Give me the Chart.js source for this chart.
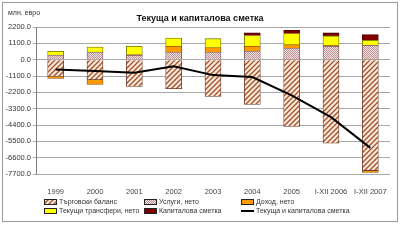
<!DOCTYPE html>
<html>
<head>
<meta charset="utf-8">
<script src="https://cdn.jsdelivr.net/npm/chart.js@4/dist/chart.umd.min.js"></script>
<style>
  body { margin: 0; background: #fff; font-family: "Liberation Sans", Arial, sans-serif; }
  #frame { position: absolute; left: 2px; top: 2px; width: 394px; height: 218px; border: 1px solid #9a9a9a; }
  #chart { position: absolute; left: 0; top: 0; }
  #unit { position: absolute; left: 8px; top: 9px; font-size: 7px; color: #333; }
  #title { position: absolute; left: 0; width: 400px; top: 13px; text-align: center; font-size: 9px; font-weight: bold; color: #111; }
  .item { position: absolute; font-size: 7px; color: #333; white-space: nowrap; line-height: 8px; }
  .item canvas { position: absolute; left: 0; top: 1px; }
  .item span { position: absolute; left: 15px; top: 0; }
</style>
</head>
<body>
<div id="frame"></div>
<canvas id="chart" width="400" height="247"></canvas>
<div id="unit">млн. евро</div>
<div id="title">Текуща и капиталова сметка</div>
<div id="legend"></div>
<script>
const categories = ["1999", "2000", "2001", "2002", "2003", "2004", "2005", "I-XII 2006", "I-XII 2007"];
const tradeBalance = [-1130, -1350, -1800, -1960, -2480, -3020, -4500, -5630, -7470];
const services = [310, 515, 300, 515, 515, 580, 785, 900, 965];
const income = [-130, -320, 40, 385, 295, 320, 225, 65, -120];
const transfers = [250, 335, 560, 560, 605, 720, 745, 635, 335];
const capitalAccount = [null, null, null, null, null, 180, 225, 200, 390];
const currentAndCapital = [-655, -770, -880, -440, -1040, -1170, -2410, -3870, -5940];
const yTicks = { min: -7700, max: 2200, step: 1100 };

const ctx = document.getElementById("chart").getContext("2d");

function hatch(bg, fg) {
    const c = document.createElement("canvas");
    c.width = 5;
    c.height = 5;
    const g = c.getContext("2d");
    g.fillStyle = bg;
    g.fillRect(0, 0, 5, 5);
    g.strokeStyle = fg;
    g.lineWidth = 1.4;
    g.beginPath();
    g.moveTo(-1, 6); g.lineTo(6, -1);
    g.moveTo(-1, 1); g.lineTo(1, -1);
    g.moveTo(4, 6); g.lineTo(6, 4);
    g.stroke();
    return c;
}

function checker(a, b) {
    const c = document.createElement("canvas");
    c.width = 2;
    c.height = 2;
    const g = c.getContext("2d");
    g.fillStyle = b;
    g.fillRect(0, 0, 2, 2);
    g.fillStyle = a;
    g.fillRect(0, 0, 1, 1);
    g.fillRect(1, 1, 1, 1);
    return c;
}

const tradeTile = hatch("#fdeadb", "#a4532f");
const servTile = checker("#bd9090", "#f4e6e6");

const datasets = [
    { type: "bar", label: "Търговски баланс", data: tradeBalance, backgroundColor: ctx.createPattern(tradeTile, "repeat"), borderColor: "#6b3a28", tile: tradeTile },
    { type: "bar", label: "Услуги, нето", data: services, backgroundColor: ctx.createPattern(servTile, "repeat"), borderColor: "#7a5858", tile: servTile },
    { type: "bar", label: "Доход, нето", data: income, backgroundColor: "#ff9a00", borderColor: "#8a5200" },
    { type: "bar", label: "Текущи трансфери, нето", data: transfers, backgroundColor: "#ffff00", borderColor: "#6b6b00" },
    { type: "bar", label: "Капиталова сметка", data: capitalAccount, backgroundColor: "#800000", borderColor: "#400000" },
    { type: "line", label: "Текуща и капиталова сметка", data: currentAndCapital, borderColor: "#000", borderWidth: 2, pointRadius: 0, tension: 0, stack: "line", order: 0 },
];
datasets.forEach(d => {
    if (d.type === "bar") {
        d.stack = "bars";
        d.order = 1;
        d.borderWidth = 0.8;
        d.barThickness = 16;
    }
});

new Chart(ctx, {
    data: { labels: categories, datasets: datasets },
    options: {
        responsive: false,
        animation: false,
        devicePixelRatio: 1,
        layout: { padding: { top: 27, left: 0, right: 10, bottom: 53 } },
        plugins: { legend: { display: false }, title: { display: false }, tooltip: { enabled: false } },
        scales: {
            x: {
                stacked: true,
                grid: { display: false },
                border: { display: false },
                ticks: { padding: 5, color: "#444", font: { size: 7.5, family: "Liberation Sans" }, maxRotation: 0 },
                afterFit: s => { s.height = 20; },
            },
            y: {
                stacked: true,
                min: yTicks.min,
                max: yTicks.max,
                grid: { color: "#a8a8a8", lineWidth: 1, tickLength: 3 },
                border: { color: "#808080" },
                ticks: {
                    stepSize: yTicks.step,
                    padding: 2,
                    color: "#333",
                    font: { size: 7.5, family: "Liberation Sans" },
                    callback: v => v.toFixed(1),
                },
                afterFit: s => { s.width = 36; },
            },
        },
    },
});

// legend in three columns, like the original
const legendPos = [[44, 198], [144, 198], [241, 198], [44, 207], [144, 207], [241, 207]];
const legend = document.getElementById("legend");
datasets.forEach((d, k) => {
    const item = document.createElement("div");
    item.className = "item";
    item.style.left = legendPos[k][0] + "px";
    item.style.top = legendPos[k][1] + "px";
    const sw = document.createElement("canvas");
    sw.width = 13;
    sw.height = 6;
    const g = sw.getContext("2d");
    if (d.type === "line") {
        g.fillStyle = "#000";
        g.fillRect(0, 2, 13, 2);
    } else {
        g.fillStyle = d.tile ? g.createPattern(d.tile, "repeat") : d.backgroundColor;
        g.fillRect(0, 0, 13, 6);
        g.strokeStyle = "#222";
        g.lineWidth = 1;
        g.strokeRect(0.5, 0.5, 12, 5);
    }
    const t = document.createElement("span");
    t.textContent = d.label;
    item.appendChild(sw);
    item.appendChild(t);
    legend.appendChild(item);
});
</script>
</body>
</html>
